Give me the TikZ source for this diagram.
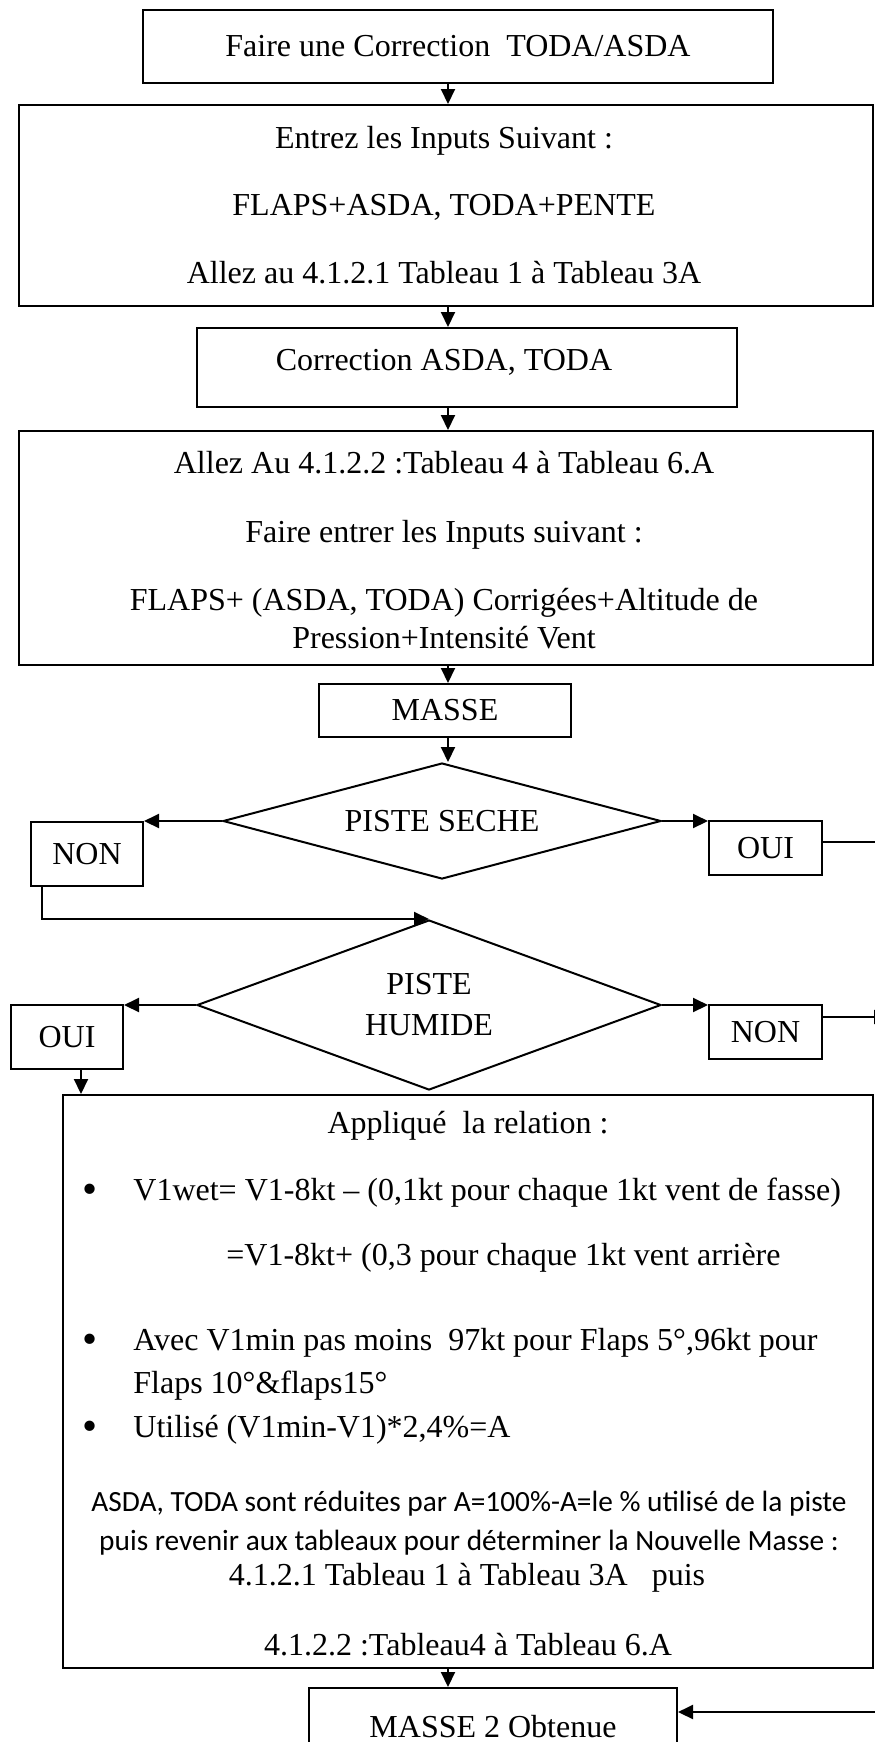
\documentclass[tikz,border=0pt]{standalone}
\usepackage{fontspec}
\setmainfont{Liberation Serif}
\newfontfamily\calibri{Carlito}
\usepackage{tikz}
\usetikzlibrary{arrows.meta, positioning, shapes.geometric, calc}

\begin{document}
\begin{tikzpicture}[
  x=0.5pt, y=-0.5pt,
  >={Triangle[length=7.5pt,width=7pt]},
  box/.style={rectangle, draw=black, line width=1pt, inner sep=0pt, font=\fontsize{16}{19}\selectfont},
  decision/.style={diamond, draw=black, line width=1pt, inner sep=0pt, align=center, font=\fontsize{16}{20.5}\selectfont},
  txt/.style={inner sep=0pt, anchor=base, font=\fontsize{16}{19}\selectfont},
  txtl/.style={txt, anchor=base west},
  dot/.style={inner sep=0pt, anchor=base, font=\fontsize{21.5}{21.5}\selectfont},
  note/.style={inner sep=0pt, anchor=base, font=\calibri\fontsize{14.67}{18}\selectfont},
  link/.style={->, line width=1pt},
  wire/.style={line width=1pt}
]
  \useasboundingbox (0,0) rectangle (874,1742);

  % boxes of the main column
  \node[box, minimum width=315pt, minimum height=36.5pt] (corr) at (458,46.5) {Faire une Correction\ \ TODA/ASDA};

  \node[box, minimum width=427pt, minimum height=100.5pt] (inputs) at (446,205.5) {};
  \node[txt] (in1) at (444,148) {Entrez les Inputs Suivant :};
  \node[txt] (in2) at (444,215) {FLAPS+ASDA, TODA+PENTE};
  \node[txt] (in3) at (444,283) {Allez au 4.1.2.1 Tableau 1 à Tableau 3A};

  \node[box, minimum width=270pt, minimum height=39.5pt] (corrad) at (467,367.5) {};
  \node[txt] (corrtxt) at (444,370) {Correction ASDA, TODA};

  \node[box, minimum width=427pt, minimum height=117pt] (tab) at (446,548) {};
  \node[txt] (tab1) at (444,473) {Allez Au 4.1.2.2 :Tableau 4 à Tableau 6.A};
  \node[txt] (tab2) at (444,542) {Faire entrer les Inputs suivant :};
  \node[txt] (tab3) at (444,610) {FLAPS+ (ASDA, TODA) Corrigées+Altitude de};
  \node[txt] (tab4) at (444,648) {Pression+Intensité Vent};

  \node[box, minimum width=126pt, minimum height=26.5pt] (masse) at (445,710.5) {MASSE};

  % decisions
  \node[decision, minimum width=219pt, minimum height=58pt, aspect=3.78] (seche) at (442,821) {PISTE SECHE};
  \node[box, minimum width=56pt, minimum height=32pt] (non1) at (87,854) {NON};
  \node[box, minimum width=56.5pt, minimum height=27pt] (oui1) at (765.5,848) {OUI};

  \node[decision, minimum width=232pt, minimum height=85pt, aspect=2.73] (humide) at (429,1005) {PISTE\\HUMIDE};
  \node[box, minimum width=56pt, minimum height=32pt] (oui2) at (67,1037) {OUI};
  \node[box, minimum width=56.5pt, minimum height=27pt] (non2) at (765.5,1032) {NON};

  % relation box
  \node[box, minimum width=405pt, minimum height=286.5pt] (relation) at (468,1381.5) {};
  \node[txt] (r0) at (468,1133) {Appliqué\ \ la relation :};
  \node[dot] (b1) at (90,1203) {•};
  \node[txtl] (r1) at (133,1200) {V1wet= V1-8kt – (0,1kt pour chaque 1kt vent de fasse)};
  \node[txtl] (r2) at (226,1265) {=V1-8kt+ (0,3 pour chaque 1kt vent arrière};
  \node[dot] (b2) at (90,1353) {•};
  \node[txtl] (r3) at (133,1350) {Avec V1min pas moins\ \ 97kt pour Flaps 5°,96kt pour};
  \node[txtl] (r4) at (133,1393) {Flaps 10°\&flaps15°};
  \node[dot] (b3) at (90,1440) {•};
  \node[txtl] (r5) at (133,1437) {Utilisé (V1min-V1)*2,4\%=A};
  \node[note] (r6) at (469,1511) {ASDA, TODA sont réduites par A=100\%-A=le \% utilisé de la piste};
  \node[note] (r7) at (469,1550) {puis revenir aux tableaux pour déterminer la Nouvelle Masse :};
  \node[txt] (r8) at (467,1585) {4.1.2.1 Tableau 1 à Tableau 3A\ \ \ puis};
  \node[txt] (r9) at (468,1655) {4.1.2.2 :Tableau4 à Tableau 6.A};

  \node[box, minimum width=184pt, minimum height=39pt] (masse2) at (493,1727) {MASSE 2 Obtenue};

  % connectors
  \coordinate (axis) at (448,0);
  \coordinate (rEdge) at (890,0);
  \coordinate (rOut2) at (889,1017);
  \coordinate (rIn) at (890,1712);

  \draw[link] (corr.south -| axis) -- (inputs.north -| axis);
  \draw[link] (inputs.south -| axis) -- (corrad.north -| axis);
  \draw[link] (corrad.south -| axis) -- (tab.north -| axis);
  \draw[link] (tab.south -| axis) -- (masse.north -| axis);
  \draw[link] (masse.south -| axis) -- (seche.north -| axis);

  \draw[link] (seche.west) -- (seche.west -| non1.east);
  \draw[link] (seche.east) -- (seche.east -| oui1.west);
  \draw[wire] ($(oui1.east)+(0,-6)$) coordinate (o1) -- (o1 -| rEdge);
  \draw[link] ($(non1.south west)+(12,0)$) |- (humide.north);

  \draw[link] (humide.west) -- (humide.west -| oui2.east);
  \draw[link] (humide.east) -- (humide.east -| non2.west);
  \draw[link] (rOut2 -| non2.east) -- (rOut2);
  \draw[link] ($(oui2.south)+(14,0)$) coordinate (d) -- (d |- relation.north);

  \draw[link] (relation.south -| axis) -- (masse2.north -| axis);
  \draw[link] (rIn) -- (rIn -| masse2.east);
\end{tikzpicture}
\end{document}
